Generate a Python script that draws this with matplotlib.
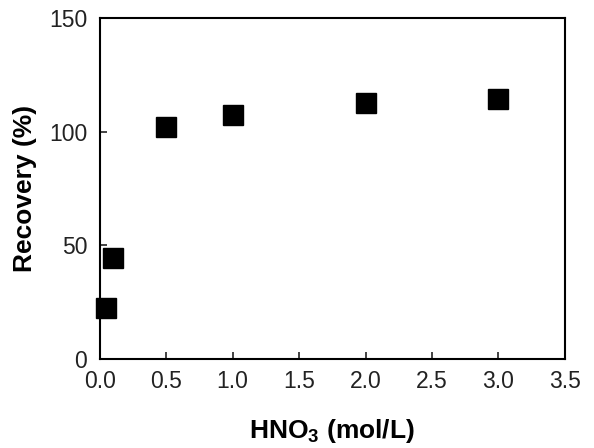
import matplotlib
matplotlib.use('Agg')
import matplotlib.pyplot as plt

# HNO3 concentration vs recovery
hno3 = [0.05, 0.1, 0.5, 1.0, 2.0, 3.0]
recovery = [22.4, 44.4, 101.8, 107.3, 112.6, 114.2]

plt.rcParams['font.family'] = ['Liberation Sans', 'DejaVu Sans']
plt.rcParams['mathtext.fontset'] = 'custom'
plt.rcParams['mathtext.rm'] = 'Liberation Sans'
plt.rcParams['mathtext.bf'] = 'Liberation Sans:bold'

fig = plt.figure(figsize=(5.94, 4.48), dpi=100)
ax = fig.add_axes([0.168, 0.199, 0.783, 0.761])

ax.plot(hno3, recovery, linestyle='none', marker='s', markersize=14,
        color='black', clip_on=False)

ax.set_xlim(0, 3.5)
ax.set_ylim(0, 150)
ax.set_xticks([0, 0.5, 1.0, 1.5, 2.0, 2.5, 3.0, 3.5])
ax.set_xticklabels(['0.0', '0.5', '1.0', '1.5', '2.0', '2.5', '3.0', '3.5'])
ax.set_yticks([0, 50, 100, 150])

ax.tick_params(direction='in', length=5, width=1.2, labelsize=16.5, colors='#222222')
ax.tick_params(axis='x', pad=8)
ax.tick_params(axis='y', pad=9)
for s in ax.spines.values():
    s.set_linewidth(1.5)

ax.set_xlabel(r'HNO$_\mathbf{3}$ (mol/L)', fontsize=19, fontweight='bold')
ax.set_ylabel('Recovery (%)', fontsize=19, fontweight='bold')
ax.xaxis.set_label_coords(0.5, -0.17)
ax.yaxis.set_label_coords(-0.135, 0.5)

fig.savefig('out.png', dpi=100)
